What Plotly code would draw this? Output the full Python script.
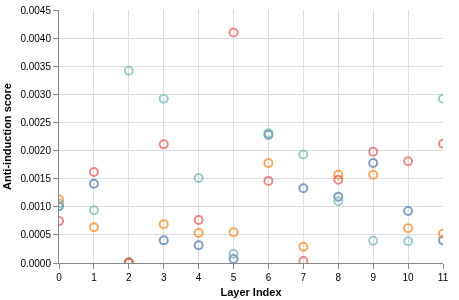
import plotly.graph_objects as go

layers = list(range(12))
series_names = ["A", "B", "C", "D"]
blue_vals = [0.00101, 0.00141, 0.00001, 0.000403, 0.000315, 0.00007, 0.00228, 0.00133, 0.00118, 0.00178, 0.000925, 0.000403]
orange_vals = [0.00113, 0.000635, 0.00001, 0.000688, 0.000534, 0.000546, 0.00178, 0.00029, 0.00157, 0.00157, 0.000617, 0.000521]
red_vals = [0.000747, 0.00162, 0.00001, 0.00211, 0.000765, 0.0041, 0.00146, 0.000036, 0.00148, 0.00198, 0.00181, 0.00212]
teal_vals = [0.00106, 0.000937, 0.00342, 0.00292, 0.00151, 0.000166, 0.00231, 0.00193, 0.0011, 0.000397, 0.000386, 0.00292]
y_ticks = [0.0, 0.0005, 0.0010, 0.0015, 0.0020, 0.0025, 0.0030, 0.0035, 0.0040, 0.0045]

colors = ["#4c78a8", "#f58518", "#e45756", "#72b7b2"]
all_vals = [blue_vals, orange_vals, red_vals, teal_vals]

fig = go.Figure()
for name, vals, c in zip(series_names, all_vals, colors):
    fig.add_trace(go.Scatter(
        x=layers, y=vals, mode="markers", name=name,
        marker=dict(symbol="circle-open", size=8, color=c, line=dict(width=2, color=c)),
        opacity=0.7, showlegend=False,
    ))

font_family = "Liberation Sans, Arial, sans-serif"
fig.update_layout(
    width=459, height=300,
    margin=dict(l=59, r=16, t=10, b=37, autoexpand=False),
    plot_bgcolor="white", paper_bgcolor="white",
    font=dict(family=font_family, size=10, color="#000"),
)
fig.update_xaxes(
    range=[0, 11], tickmode="array", tickvals=layers,
    showgrid=True, gridcolor="#ddd", gridwidth=1,
    showline=True, linecolor="#888", linewidth=1,
    ticks="outside", ticklen=5, tickcolor="#888",
    zeroline=False, automargin=False,
    title=dict(text="<b>Layer Index</b>", font=dict(size=11), standoff=6),
    tickfont=dict(size=10),
)
fig.update_yaxes(
    range=[0, 0.0045], tickmode="array", tickvals=y_ticks, tickformat=".4f",
    showgrid=True, gridcolor="#ddd", gridwidth=1,
    showline=True, linecolor="#888", linewidth=1,
    ticks="outside", ticklen=5, tickcolor="#888",
    zeroline=False, automargin=False,
    title=dict(text="<b>Anti-induction score</b>", font=dict(size=11), standoff=6),
    tickfont=dict(size=10),
)
fig.write_html(
    "out.html",
    config={"displayModeBar": False},
    post_script="document.body.style.margin='0px';document.body.style.overflow='hidden';",
)
